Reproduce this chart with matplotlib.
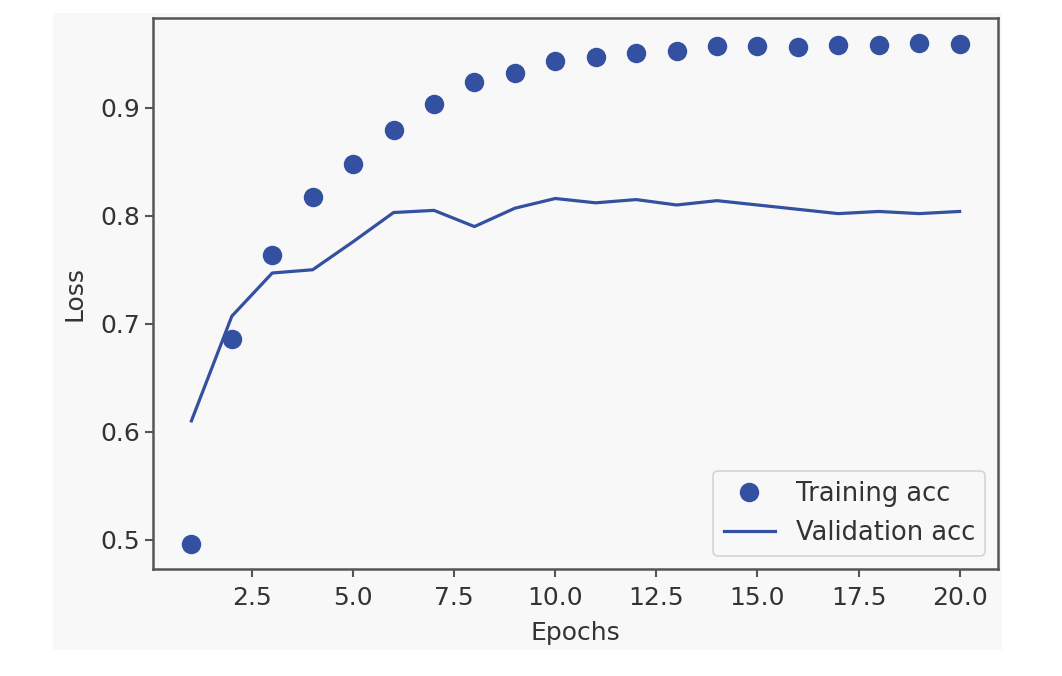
import matplotlib
matplotlib.use("Agg")
import matplotlib.pyplot as plt
from matplotlib.patches import Rectangle

epochs = list(range(1, 21))
training_acc = [0.496, 0.686, 0.764, 0.817, 0.848, 0.879, 0.904, 0.924, 0.932, 0.943,
                0.947, 0.951, 0.953, 0.957, 0.957, 0.956, 0.958, 0.958, 0.960, 0.959]
validation_acc = [0.610, 0.707, 0.747, 0.750, 0.776, 0.803, 0.805, 0.790, 0.807, 0.816,
                  0.812, 0.815, 0.810, 0.814, 0.810, 0.806, 0.802, 0.804, 0.802, 0.804]

W, H = 1062, 676
fig = plt.figure(figsize=(W / 100, H / 100), dpi=100, facecolor="white")
bg = "#f8f8f8"
fig.patches.append(Rectangle((53 / W, 1 - 650 / H), (1002 - 53) / W, (650 - 13) / H,
                             transform=fig.transFigure, facecolor=bg, edgecolor="none", zorder=-10))
ax = fig.add_axes([153 / W, 1 - 569 / H, (998 - 153) / W, (569 - 18) / H])
ax.set_facecolor(bg)

color = "#3450a0"
ax.plot(epochs, training_acc, "o", color=color, markersize=13, label="Training acc")
ax.plot(epochs, validation_acc, "-", color=color, linewidth=2.3, label="Validation acc")

ax.set_xticks([2.5, 5.0, 7.5, 10.0, 12.5, 15.0, 17.5, 20.0])
ax.set_yticks([0.5, 0.6, 0.7, 0.8, 0.9])
ax.set_xlabel("Epochs", fontsize=18, color="#333333", labelpad=8)
ax.set_ylabel("Loss", fontsize=18, color="#333333", labelpad=10)
ax.tick_params(labelsize=18, colors="#333333", length=6, width=1.5, color="#555555")
ax.tick_params(axis="x", pad=6)
for s in ax.spines.values():
    s.set_color("#555555")
    s.set_linewidth(1.8)

leg = ax.legend(loc="lower right", fontsize=18.5, frameon=True, facecolor=bg,
                edgecolor="#cccccc", borderpad=0.4, handlelength=2.0)
leg.get_frame().set_linewidth(1.2)
for t in leg.get_texts():
    t.set_color("#333333")

fig.savefig("out.png", dpi=100, facecolor="white")
